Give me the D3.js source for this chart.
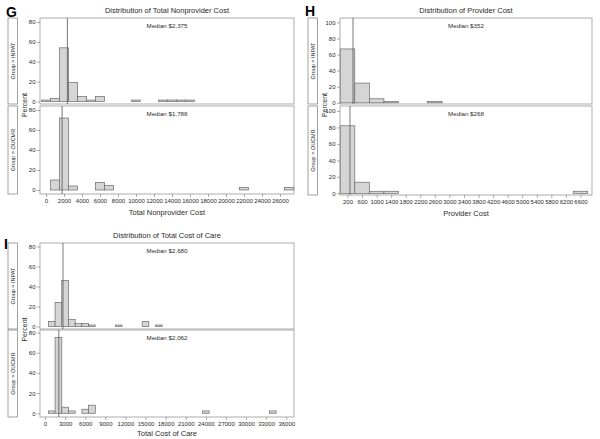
<!DOCTYPE html>
<html><head><meta charset="utf-8">
<script src="https://cdn.jsdelivr.net/npm/d3@7"></script>
<style>body{margin:0;background:#fff} svg{display:block}</style>
</head><body><svg id="c" width="600" height="439"></svg>
<script>
// ---------- DATA ----------
const groupNames = ["Group = INPAT", "Group = OUCMR"];
const yTicks80 = [0, 20, 40, 60, 80];
const yTicks100 = [0, 20, 40, 60, 80, 100];

// G: Total Nonprovider Cost (bin width 1000, bins given by midpoint)
const gTicks = [0,2000,4000,6000,8000,10000,12000,14000,16000,18000,20000,22000,24000,26000];
const gInpatBins = [0,1000,2000,3000,4000,5000,6000,10000,13000,14000,15000,16000];
const gInpatPct  = [1.5,3,54,19,5,1.5,5,1.5,1.5,1.5,1.5,1.5];
const gOucmrBins = [1000,2000,3000,6000,7000,22000,27000];
const gOucmrPct  = [10,72,4,7.5,4.5,2.5,2.5];
const gMedians = [2375, 1788];
const gMedianLabels = ["Median $2,375", "Median $1,788"];

// H: Provider Cost (bin width 400)
const hTicks = [200,600,1000,1400,1800,2200,2600,3000,3400,3800,4200,4600,5000,5400,5800,6200,6600];
const hInpatBins = [200,600,1000,1400,2600];
const hInpatPct  = [67,24.5,5,1.5,1.5];
const hOucmrBins = [200,600,1000,1400,6600];
const hOucmrPct  = [82,13.5,2.5,2.5,2.5];
const hMedians = [352, 268];
const hMedianLabels = ["Median $352", "Median $268"];

// I: Total Cost of Care (bin width 1000)
const iTicks = [0,3000,6000,9000,12000,15000,18000,21000,24000,27000,30000,33000,36000];
const iInpatBins = [1000,2000,3000,4000,5000,6000,7000,11000,15000,17000];
const iInpatPct  = [5,24,46,7,3,3,1.5,1.5,5,1.5];
const iOucmrBins = [1000,2000,3000,4000,6000,7000,24000,34000];
const iOucmrPct  = [2.3,75,6,2.3,4,8,2.3,2.3];
const iMedians = [2680, 2062];
const iMedianLabels = ["Median $2,680", "Median $2,062"];

// ---------- DRAWING ----------
const FONT = '"Liberation Sans Narrow","Liberation Sans",Arial,sans-serif';
const TXT = "#2a2a2a";
const svg = d3.select("#c");

function drawFacet(cfg) {
  const g = svg.append("g");
  const x = d3.scaleLinear().domain(cfg.xDomain).range([cfg.left, cfg.right]);
  const cx = (cfg.left + cfg.right) / 2;

  g.append("text").attr("x", cfg.letterX).attr("y", cfg.letterY)
    .attr("font-family", "Liberation Sans,Arial,sans-serif").attr("font-weight", "bold")
    .attr("font-size", 14).attr("fill", "#000").text(cfg.letter);

  g.append("text").attr("x", cx).attr("y", cfg.titleY).attr("text-anchor", "middle")
    .attr("font-family", FONT).attr("font-size", 7.5).attr("fill", TXT).text(cfg.title);

  cfg.rows.forEach((row, i) => {
    const y = d3.scaleLinear().domain(row.yDomain).range([row.bottom, row.top]);
    // strip
    g.append("rect").attr("x", cfg.left - 32).attr("y", row.top)
      .attr("width", 9.5).attr("height", row.bottom - row.top)
      .attr("fill", "#fff").attr("stroke", "#8a8a8a").attr("stroke-width", 0.8);
    g.append("text")
      .attr("transform", `translate(${cfg.left - 25},${(row.top + row.bottom) / 2}) rotate(-90)`)
      .attr("text-anchor", "middle").attr("font-family", FONT).attr("font-size", 5.5)
      .attr("fill", TXT).text(groupNames[i]);
    // frame
    g.append("rect").attr("x", cfg.left).attr("y", row.top)
      .attr("width", cfg.right - cfg.left).attr("height", row.bottom - row.top)
      .attr("fill", "#fff").attr("stroke", "#9a9a9a").attr("stroke-width", 0.8);
    // y axis
    const ya = g.append("g").attr("transform", `translate(${cfg.left},0)`)
      .call(d3.axisLeft(y).tickValues(cfg.yTicks).tickSize(3).tickPadding(1.5).tickFormat(d3.format("d")));
    ya.select(".domain").remove();
    ya.selectAll("line").attr("stroke", "#777").attr("stroke-width", 0.6);
    ya.selectAll("text").attr("font-family", FONT).attr("font-size", 6).attr("fill", TXT);
    // bars
    const data = row.bins.map((b, j) => ({ b, v: row.pct[j] }));
    g.append("g").selectAll("rect").data(data).enter().append("rect")
      .attr("x", d => x(d.b - cfg.binWidth / 2))
      .attr("width", d => x(d.b + cfg.binWidth / 2) - x(d.b - cfg.binWidth / 2))
      .attr("y", d => y(d.v)).attr("height", d => y(0) - y(d.v))
      .attr("fill", "#d5d5d5").attr("stroke", "#6a6a6a").attr("stroke-width", 0.7);
    // median line
    g.append("line").attr("x1", x(row.median)).attr("x2", x(row.median))
      .attr("y1", row.top).attr("y2", row.bottom)
      .attr("stroke", "#555").attr("stroke-width", 0.8);
    g.append("text").attr("x", cx).attr("y", row.top + 9.5).attr("text-anchor", "middle")
      .attr("font-family", FONT).attr("font-size", 6.2).attr("fill", TXT).text(row.medianLabel);
  });

  // Percent label between rows
  const mid = (cfg.rows[0].bottom + cfg.rows[1].top) / 2;
  g.append("text").attr("transform", `translate(${cfg.left - 13},${mid}) rotate(-90)`)
    .attr("text-anchor", "middle").attr("font-family", FONT).attr("font-size", 7)
    .attr("fill", TXT).text("Percent");

  // x axis
  const last = cfg.rows[cfg.rows.length - 1];
  const xa = g.append("g").attr("transform", `translate(0,${last.bottom})`)
    .call(d3.axisBottom(x).tickValues(cfg.xTicks).tickSize(3).tickPadding(1.5).tickFormat(d3.format("d")));
  xa.select(".domain").remove();
  xa.selectAll("line").attr("stroke", "#777").attr("stroke-width", 0.6);
  xa.selectAll("text").attr("font-family", FONT).attr("font-size", 6).attr("fill", TXT);

  g.append("text").attr("x", cx).attr("y", cfg.xTitleY).attr("text-anchor", "middle")
    .attr("font-family", FONT).attr("font-size", 7.5).attr("fill", TXT).text(cfg.xTitle);
}

drawFacet({
  letter: "G", letterX: 6, letterY: 17,
  title: "Distribution of Total Nonprovider Cost", titleY: 13,
  left: 40, right: 294, xDomain: [-667, 27556], binWidth: 1000, xTicks: gTicks,
  yTicks: yTicks80, xTitle: "Total Nonprovider Cost", xTitleY: 215,
  rows: [
    { top: 18, bottom: 104, yDomain: [-2.5, 84], bins: gInpatBins, pct: gInpatPct, median: gMedians[0], medianLabel: gMedianLabels[0] },
    { top: 106, bottom: 194, yDomain: [-4, 84], bins: gOucmrBins, pct: gOucmrPct, median: gMedians[1], medianLabel: gMedianLabels[1] }
  ]
});

drawFacet({
  letter: "H", letterX: 305, letterY: 16,
  title: "Distribution of Provider Cost", titleY: 13,
  left: 340, right: 592, xDomain: [-6, 6917], binWidth: 400, xTicks: hTicks,
  yTicks: yTicks100, xTitle: "Provider Cost", xTitleY: 216,
  rows: [
    { top: 18, bottom: 104, yDomain: [-1.5, 105.5], bins: hInpatBins, pct: hInpatPct, median: hMedians[0], medianLabel: hMedianLabels[0] },
    { top: 106, bottom: 195, yDomain: [-2, 106], bins: hOucmrBins, pct: hOucmrPct, median: hMedians[1], medianLabel: hMedianLabels[1] }
  ]
});

drawFacet({
  letter: "I", letterX: 4, letterY: 249,
  title: "Distribution of Total Cost of Care", titleY: 238,
  left: 40, right: 294, xDomain: [-750, 37160], binWidth: 1000, xTicks: iTicks,
  yTicks: yTicks80, xTitle: "Total Cost of Care", xTitleY: 435.5,
  rows: [
    { top: 243, bottom: 329, yDomain: [-2.5, 83.5], bins: iInpatBins, pct: iInpatPct, median: iMedians[0], medianLabel: iMedianLabels[0] },
    { top: 330, bottom: 417, yDomain: [-3.7, 82.5], bins: iOucmrBins, pct: iOucmrPct, median: iMedians[1], medianLabel: iMedianLabels[1] }
  ]
});
</script>
</body></html>
